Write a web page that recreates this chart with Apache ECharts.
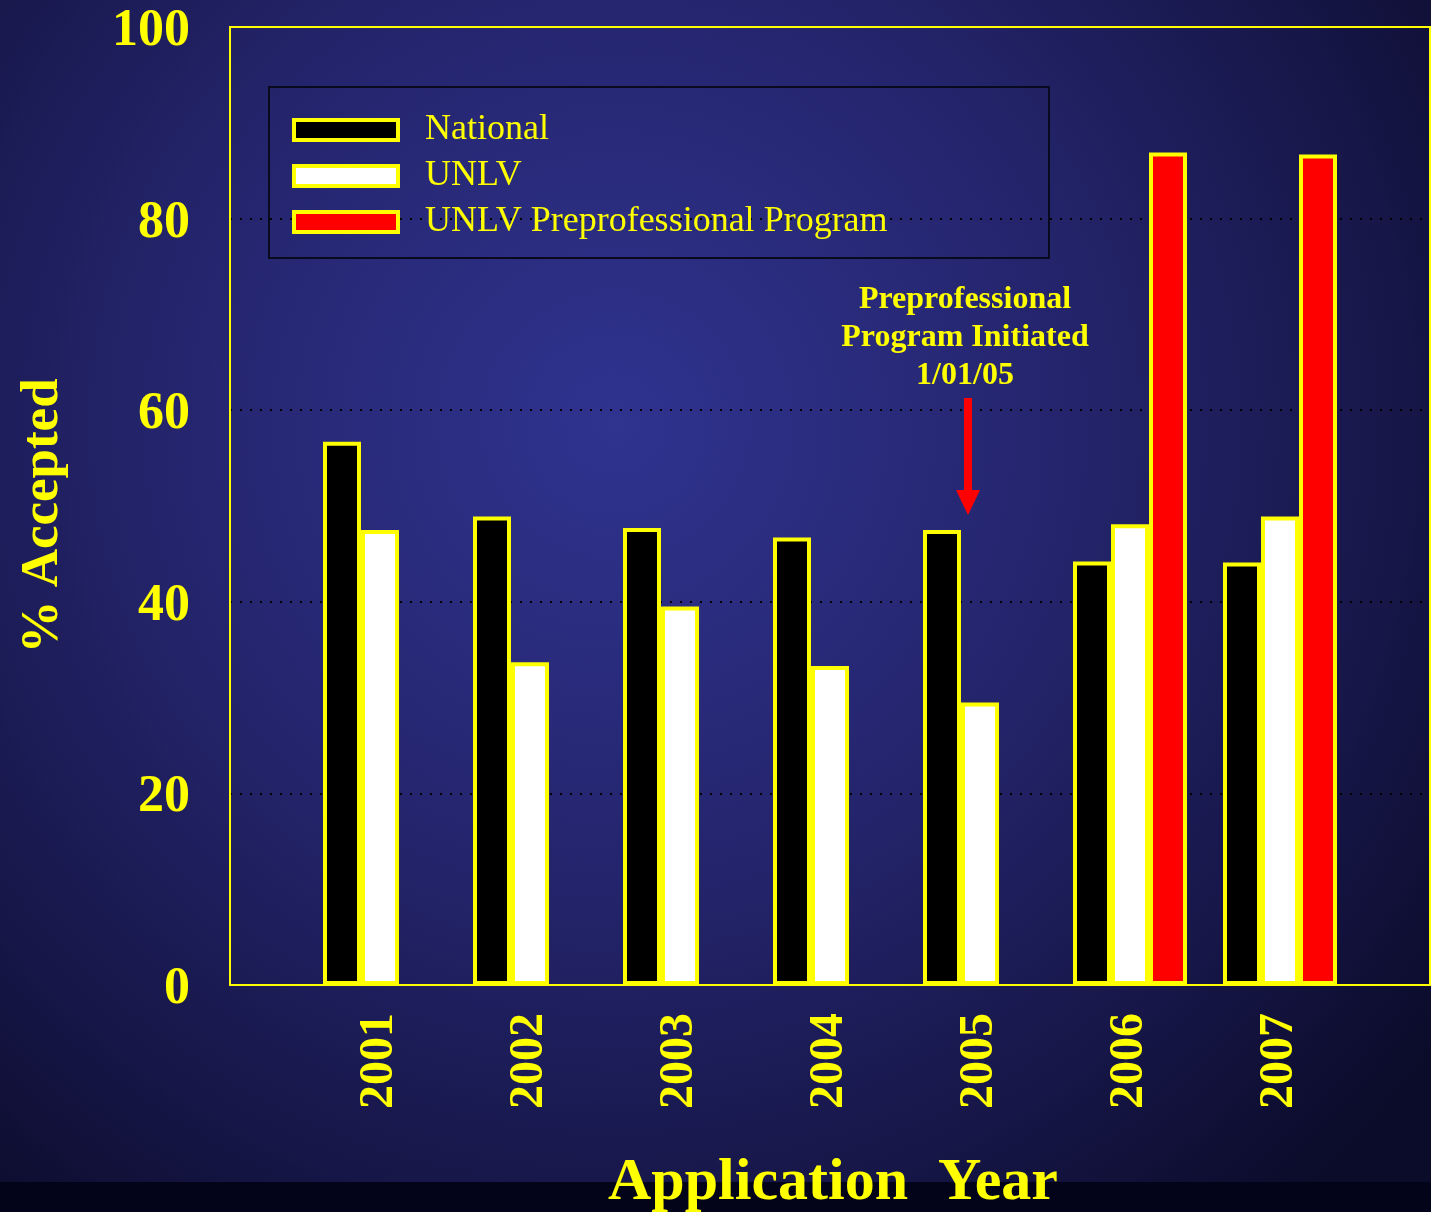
<!DOCTYPE html>
<html>
<head>
<meta charset="utf-8">
<script src="https://cdn.jsdelivr.net/npm/echarts@6/dist/echarts.min.js"></script>
<style>html,body{margin:0;padding:0;background:#0a0a28;}#c{width:1431px;height:1212px;}</style>
</head>
<body>
<div id="c"></div>
<script>
const categories = ['2001','2002','2003','2004','2005','2006','2007'];
const seriesNames = ['National','UNLV','UNLV Preprofessional Program'];
const national = [56.7, 48.9, 47.7, 46.7, 47.5, 44.2, 44.1];
const unlv = [47.5, 33.7, 39.5, 33.3, 29.5, 48.1, 48.9];
const prepro = [null, null, null, null, null, 86.9, 86.7];
const yTicks = [0, 20, 40, 60, 80, 100];
const annotationText = 'Preprofessional\nProgram Initiated\n1/01/05';
const xTitle = 'Application  Year';
const yTitle = '% Accepted';

const SERIF = "'Liberation Serif','Times New Roman',serif";
const YELLOW = '#ffff00';
const axisCats = [''].concat(categories, ['']);
const pad = arr => [null].concat(arr, [null]);

const chart = echarts.init(document.getElementById('c'), null, {renderer: 'canvas'});
function barSeries(name, data, color) {
  return {
    name: name, type: 'bar', data: pad(data), barWidth: 38, barGap: '0%',
    itemStyle: {color: color, borderColor: YELLOW, borderWidth: 4},
    emphasis: {disabled: true}, animation: false
  };
}
chart.setOption({
  animation: false,
  backgroundColor: {
    type: 'radial', x: 0.43, y: 0.35, r: 0.85,
    colorStops: [
      {offset: 0, color: '#30338f'},
      {offset: 0.45, color: '#24246c'},
      {offset: 0.75, color: '#17174a'},
      {offset: 1, color: '#0b0b2a'}
    ]
  },
  grid: {left: 230, top: 27, right: 1, bottom: 227, show: true, borderColor: YELLOW, borderWidth: 2, backgroundColor: 'transparent'},
  legend: {
    orient: 'vertical', left: 292, top: 107, padding: 0, itemGap: 0,
    itemWidth: 104, itemHeight: 20, icon: 'rect',
    itemStyle: {borderColor: YELLOW, borderWidth: 4},
    data: seriesNames,
    textStyle: {color: YELLOW, fontFamily: SERIF, fontSize: 36, lineHeight: 46, padding: [0, 0, 0, 22]},
    selectedMode: false
  },
  xAxis: {
    type: 'category', data: axisCats, boundaryGap: false,
    axisLine: {lineStyle: {color: YELLOW, width: 2}},
    axisTick: {show: false},
    splitLine: {show: false},
    axisLabel: {rotate: 90, margin: 28, color: YELLOW, fontFamily: SERIF, fontWeight: 'bold', fontSize: 48, interval: 0}
  },
  yAxis: {
    type: 'value', min: 0, max: 100, interval: 20,
    axisLine: {show: true, lineStyle: {color: YELLOW, width: 2}},
    axisTick: {show: false},
    splitLine: {show: true, lineStyle: {color: '#000000', width: 2, type: [2, 8]}},
    axisLabel: {margin: 40, color: YELLOW, fontFamily: SERIF, fontWeight: 'bold', fontSize: 52,
      formatter: v => yTicks.indexOf(v) >= 0 ? '{a|' + v + '}' : '',
      rich: {a: {color: YELLOW, fontFamily: SERIF, fontWeight: 'bold', fontSize: 52, padding: [9, 0, 0, 0]}}}
  },
  series: [
    barSeries(seriesNames[0], national, '#000000'),
    barSeries(seriesNames[1], unlv, '#ffffff'),
    barSeries(seriesNames[2], prepro, '#ff0000')
  ],
  graphic: [
    {type: 'rect', left: 0, top: 1182, shape: {width: 1431, height: 30}, style: {fill: '#03031a'}, z: -10, silent: true},
    {type: 'line', shape: {x1: 229, y1: 27, x2: 1431, y2: 27}, style: {stroke: YELLOW, lineWidth: 2}, z: 20, silent: true},
    {type: 'rect', shape: {x: 269, y: 87, width: 780, height: 171}, style: {fill: 'none', stroke: '#0a0a1e', lineWidth: 2}, z: 5, silent: true},
    {type: 'text', x: 965, y: 281, style: {text: annotationText, fill: YELLOW, font: 'bold 32px ' + SERIF, align: 'center', verticalAlign: 'top', lineHeight: 38}, z: 10},
    {type: 'rect', shape: {x: 964, y: 398, width: 8, height: 94}, style: {fill: '#ff0000'}, z: 10},
    {type: 'polygon', shape: {points: [[956, 490], [980, 490], [968, 515]]}, style: {fill: '#ff0000'}, z: 10},
    {type: 'text', x: 833, y: 1183, style: {text: xTitle, fill: YELLOW, font: 'bold 60px ' + SERIF, align: 'center', verticalAlign: 'middle'}, z: 10},
    {type: 'text', x: 43, y: 516, rotation: Math.PI / 2, style: {text: yTitle, fill: YELLOW, font: 'bold 53px ' + SERIF, align: 'center', verticalAlign: 'middle'}, z: 10}
  ]
});
</script>
</body>
</html>
